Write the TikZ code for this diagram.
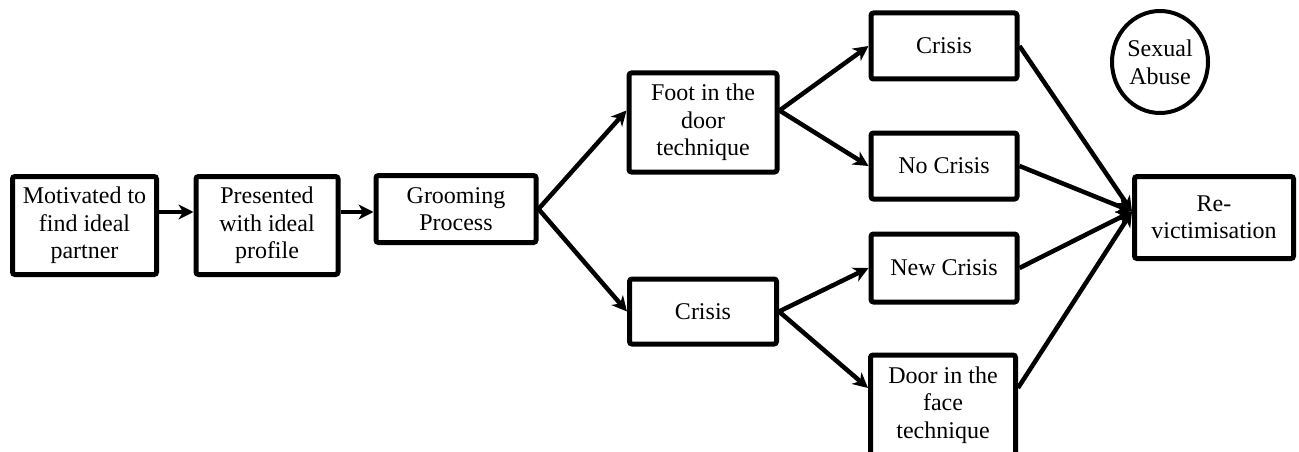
\documentclass[tikz,border=0pt]{standalone}
\usepackage{fontspec}
\setmainfont{Liberation Serif}
\usetikzlibrary{arrows.meta,shapes.geometric,calc}

\tikzset{
  stepbox/.style={draw=black, line width=5pt, rounded corners=2.5pt, fill=white,
    inner sep=0pt, align=center, font=\fontsize{24}{27.5}\selectfont},
  ovalbox/.style={draw=black, ellipse, line width=4pt, inner sep=0pt, align=center,
    font=\fontsize{24}{28}\selectfont},
  arr/.style={line width=4.5pt, -{Stealth[length=15pt,width=15pt,inset=4.5pt]}}
}

\begin{document}
\begin{tikzpicture}[x=1pt,y=-1pt]
  \useasboundingbox (0,0) rectangle (1299,452);

  % main chain
  \node[stepbox, minimum width=144pt, minimum height=98pt] (B1) at (84.5,225.5)
    {Motivated to\\find ideal\\partner};
  \node[stepbox, minimum width=142pt, minimum height=98pt] (B2) at (267,225.5)
    {Presented\\with ideal\\profile};
  \node[stepbox, minimum width=160pt, minimum height=67pt] (B3) at (456,209)
    {Grooming\\Process};

  % first branching
  \node[stepbox, minimum width=148pt, minimum height=99pt] (F) at (703,122.5)
    {Foot in the\\door\\technique};
  \node[stepbox, minimum width=147pt, minimum height=65pt] (C) at (703,311.5)
    {Crisis};

  % second branching
  \node[stepbox, minimum width=146pt, minimum height=66pt] (T) at (944,46) {Crisis};
  \node[stepbox, minimum width=146pt, minimum height=66pt] (N) at (944,166) {No Crisis};
  \node[stepbox, minimum width=146pt, minimum height=68pt] (W) at (944,268) {New Crisis};
  \node[stepbox, minimum width=145pt, minimum height=100pt] (D) at (943,405)
    {Door in the\\face\\technique};

  % outcome
  \node[stepbox, minimum width=159pt, minimum height=82pt] (R) at (1214,217.5)
    {Re-\\victimisation};
  \node[ovalbox, minimum width=96pt, minimum height=102pt] (S) at (1160,62)
    {Sexual\\Abuse};

  % connection points
  \coordinate (lvl) at ($(B3.west)+(0,3)$);
  \coordinate (Fin) at ([yshift=12pt]F.west);
  \coordinate (Fout) at ([yshift=12pt]F.east);
  \coordinate (Din) at ([yshift=17pt]D.west);
  \coordinate (Dout) at ([yshift=17pt]D.east);
  \coordinate (Rin) at ([yshift=6pt]R.west);

  % connectors
  \draw[arr] (B1.east |- lvl) -- (B2.west |- lvl);
  \draw[arr] (B2.east |- lvl) -- (B3.west |- lvl);
  \draw[arr] (B3.east) -- (Fin);
  \draw[arr] (B3.east) -- (C.west);
  \draw[arr] (Fout) -- (T.west);
  \draw[arr] (Fout) -- (N.west);
  \draw[arr] (C.east) -- (W.west);
  \draw[arr] (C.east) -- (Din);
  \draw[arr] (T.east) -- (Rin);
  \draw[arr] (N.east) -- (Rin);
  \draw[arr] (W.east) -- (Rin);
  \draw[arr] (Dout) -- (Rin);
\end{tikzpicture}
\end{document}
